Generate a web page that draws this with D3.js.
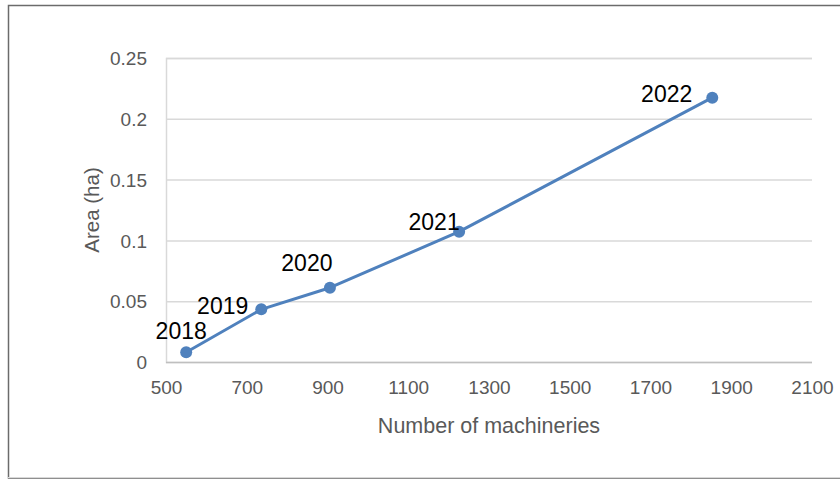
<!DOCTYPE html>
<html>
<head>
<meta charset="utf-8">
<script src="https://cdn.jsdelivr.net/npm/d3@7"></script>
<style>
  html, body { margin: 0; padding: 0; background: #fff; }
  svg { display: block; }
</style>
</head>
<body>
<svg id="chart" width="840" height="479"></svg>
<script>
// ---- data ----
const years = ["2018", "2019", "2020", "2021", "2022"];
const machineries = [550, 736, 906, 1226, 1853];
const areas = [0.008, 0.0433, 0.0611, 0.1072, 0.2174];
const xTicks = [500, 700, 900, 1100, 1300, 1500, 1700, 1900, 2100];
const yTicks = [0, 0.05, 0.1, 0.15, 0.2, 0.25];
const xTitle = "Number of machineries";
const yTitle = "Area (ha)";

// ---- style / layout ----
const labelOffsets = [
  { dx: -5, dy: -13, anchor: "middle" },
  { dx: -13, dy: 5, anchor: "end" },
  { dx: -23, dy: -17, anchor: "middle" },
  { dx: -25, dy: -2, anchor: "middle" },
  { dx: -20, dy: 4, anchor: "end" }
];
const font = "'Liberation Sans', Arial, sans-serif";
const lineColor = "#4F81BD";

const svg = d3.select("#chart");
const plot = { left: 166, right: 812, top: 58, bottom: 362 };

const x = d3.scaleLinear().domain([500, 2100]).range([plot.left, plot.right]);
const y = d3.scaleLinear().domain([0, 0.25]).range([plot.bottom, plot.top]);

// outer frame
svg.append("path")
  .attr("d", `M841,5.5 H8.5 V478 H841`)
  .attr("fill", "none")
  .attr("stroke", "#6b6b6b")
  .attr("stroke-width", 1.5);
svg.append("line")
  .attr("x1", 8).attr("x2", 840).attr("y1", 477.5).attr("y2", 477.5)
  .attr("stroke", "#d9d9d9").attr("stroke-width", 1);

// gridlines
const yAxis = d3.axisLeft(y).tickValues(yTicks).tickSize(-(plot.right - plot.left))
  .tickPadding(19).tickFormat(d => d3.format("")(+d.toFixed(2)));
const gy = svg.append("g").attr("transform", `translate(${plot.left},0)`).call(yAxis);
gy.select(".domain").attr("stroke", "#d9d9d9").attr("stroke-width", 1.5);
gy.selectAll(".tick line").attr("stroke", "#d9d9d9").attr("stroke-width", 1.5);
gy.selectAll(".tick text")
  .attr("fill", "#595959").style("font-family", font).style("font-size", "19px")
  .attr("dy", "0.35em");
gy.selectAll(".tick").filter(d => d === 0).select("line").attr("stroke", "#bfbfbf");

const xAxis = d3.axisBottom(x).tickValues(xTicks).tickSize(0).tickPadding(19).tickFormat(d3.format("d"));
const gx = svg.append("g").attr("transform", `translate(0,${plot.bottom})`).call(xAxis);
gx.select(".domain").remove();
gx.selectAll(".tick text")
  .attr("fill", "#595959").style("font-family", font).style("font-size", "19px");

// axis titles
svg.append("text")
  .attr("x", 489).attr("y", 433)
  .attr("text-anchor", "middle")
  .attr("fill", "#595959").style("font-family", font).style("font-size", "21.5px")
  .text(xTitle);
svg.append("text")
  .attr("transform", `translate(99,210) rotate(-90)`)
  .attr("text-anchor", "middle")
  .attr("fill", "#595959").style("font-family", font).style("font-size", "20.5px")
  .text(yTitle);

// series
const pts = machineries.map((m, i) => ({ x: m, y: areas[i], label: years[i], off: labelOffsets[i] }));
svg.append("path")
  .datum(pts)
  .attr("fill", "none")
  .attr("stroke", lineColor)
  .attr("stroke-width", 3)
  .attr("stroke-linejoin", "round")
  .attr("d", d3.line().x(d => x(d.x)).y(d => y(d.y)));

svg.selectAll("circle.pt").data(pts).enter().append("circle")
  .attr("class", "pt")
  .attr("cx", d => x(d.x)).attr("cy", d => y(d.y)).attr("r", 6)
  .attr("fill", lineColor);

svg.selectAll("text.lbl").data(pts).enter().append("text")
  .attr("class", "lbl")
  .attr("x", d => x(d.x) + d.off.dx)
  .attr("y", d => y(d.y) + d.off.dy)
  .attr("text-anchor", d => d.off.anchor)
  .attr("fill", "#000").style("font-family", font).style("font-size", "23px")
  .text(d => d.label);
</script>
</body>
</html>
